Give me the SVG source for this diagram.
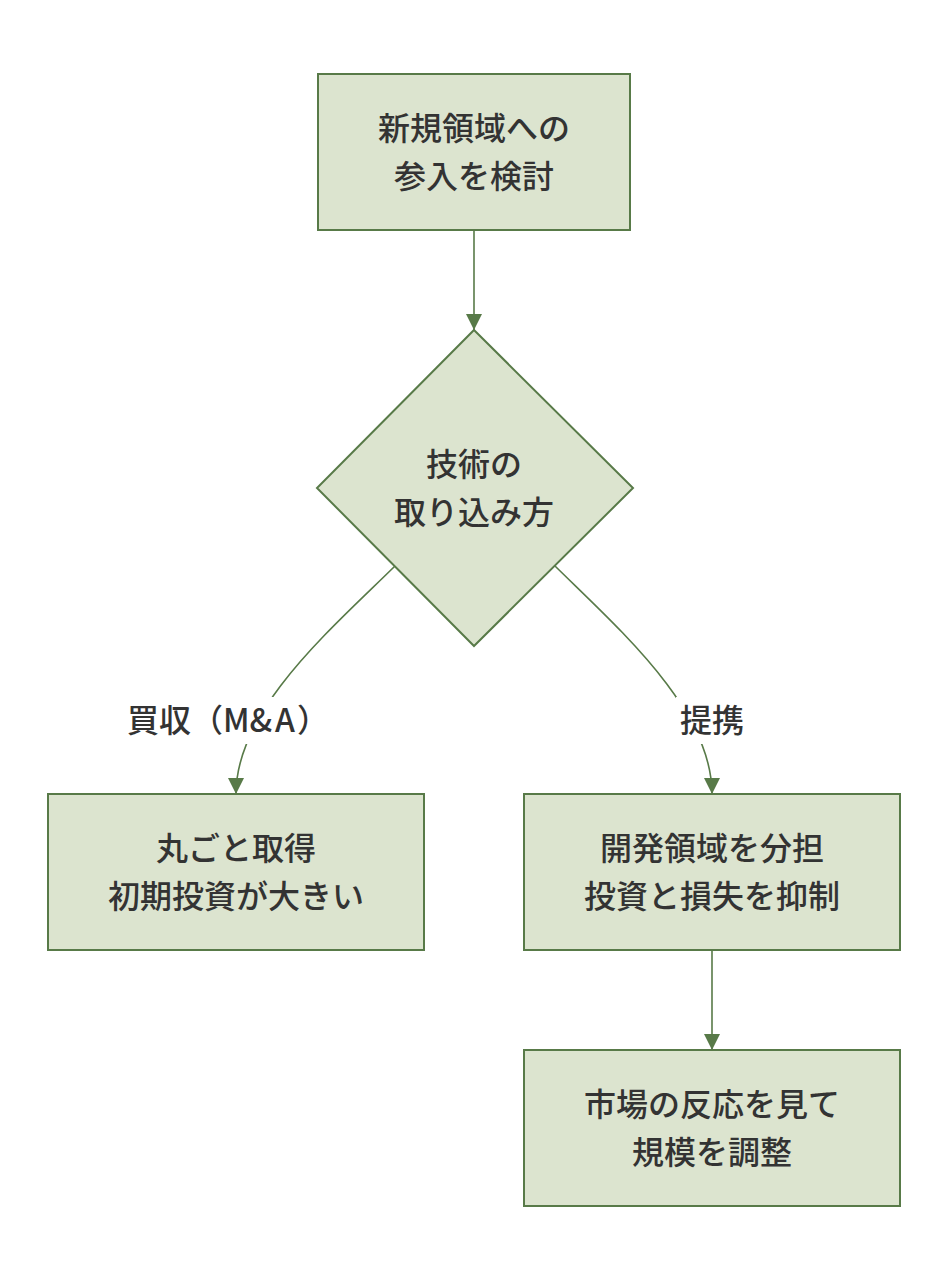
<svg xmlns="http://www.w3.org/2000/svg" width="948" height="1284" viewBox="0 0 948 1284">
<style>
.node{fill:#dce4cf;stroke:#587a48;stroke-width:2}
.t{font-family:"Noto Sans CJK JP","Noto Sans",sans-serif;font-size:32px;font-weight:500;fill:#333;text-anchor:middle}
.e{fill:none;stroke:#587a48;stroke-width:1.6}
.lbg{fill:#ffffff}
</style>
<defs>
<marker id="arr" markerUnits="userSpaceOnUse" markerWidth="16" markerHeight="16" refX="16" refY="8" orient="auto" viewBox="0 0 16 16">
<path d="M0,0 L16,8 L0,16 Z" fill="#587a48"/>
</marker>
</defs>
<rect width="948" height="1284" fill="#ffffff"/>
<g id="connectors">
<path class="e" d="M474,230 L474,330" marker-end="url(#arr)"/>
<path class="e" d="M395,566 C330,630 236,710 236,794" marker-end="url(#arr)"/>
<path class="e" d="M555,566 C620,630 712,710 712,794" marker-end="url(#arr)"/>
<path class="e" d="M712,950 L712,1050" marker-end="url(#arr)"/>
<rect class="lbg" x="128" y="697" width="200" height="47"/>
<text class="t" x="228" y="732">買収（M<tspan letter-spacing="3">&amp;</tspan><tspan letter-spacing="2">A</tspan>）</text>
<rect class="lbg" x="676" y="697" width="72" height="47"/>
<text class="t" x="712" y="732">提携</text>
</g>
<g id="n1">
<rect class="node" x="318" y="74" width="312" height="156"/>
<text class="t" x="474" y="140">新規領域への</text>
<text class="t" x="474" y="188">参入を検討</text>
</g>
<g id="n2">
<polygon class="node" points="474,330 633,488 474,646 317,488"/>
<text class="t" x="474" y="476">技術の</text>
<text class="t" x="474" y="524">取り込み方</text>
</g>
<g id="n3">
<rect class="node" x="48" y="794" width="376" height="156"/>
<text class="t" x="236" y="860">丸ごと取得</text>
<text class="t" x="236" y="908">初期投資が大きい</text>
</g>
<g id="n4">
<rect class="node" x="524" y="794" width="376" height="156"/>
<text class="t" x="712" y="860">開発領域を分担</text>
<text class="t" x="712" y="908">投資と損失を抑制</text>
</g>
<g id="n5">
<rect class="node" x="524" y="1050" width="376" height="156"/>
<text class="t" x="712" y="1116">市場の反応を見て</text>
<text class="t" x="712" y="1164">規模を調整</text>
</g>
</svg>
